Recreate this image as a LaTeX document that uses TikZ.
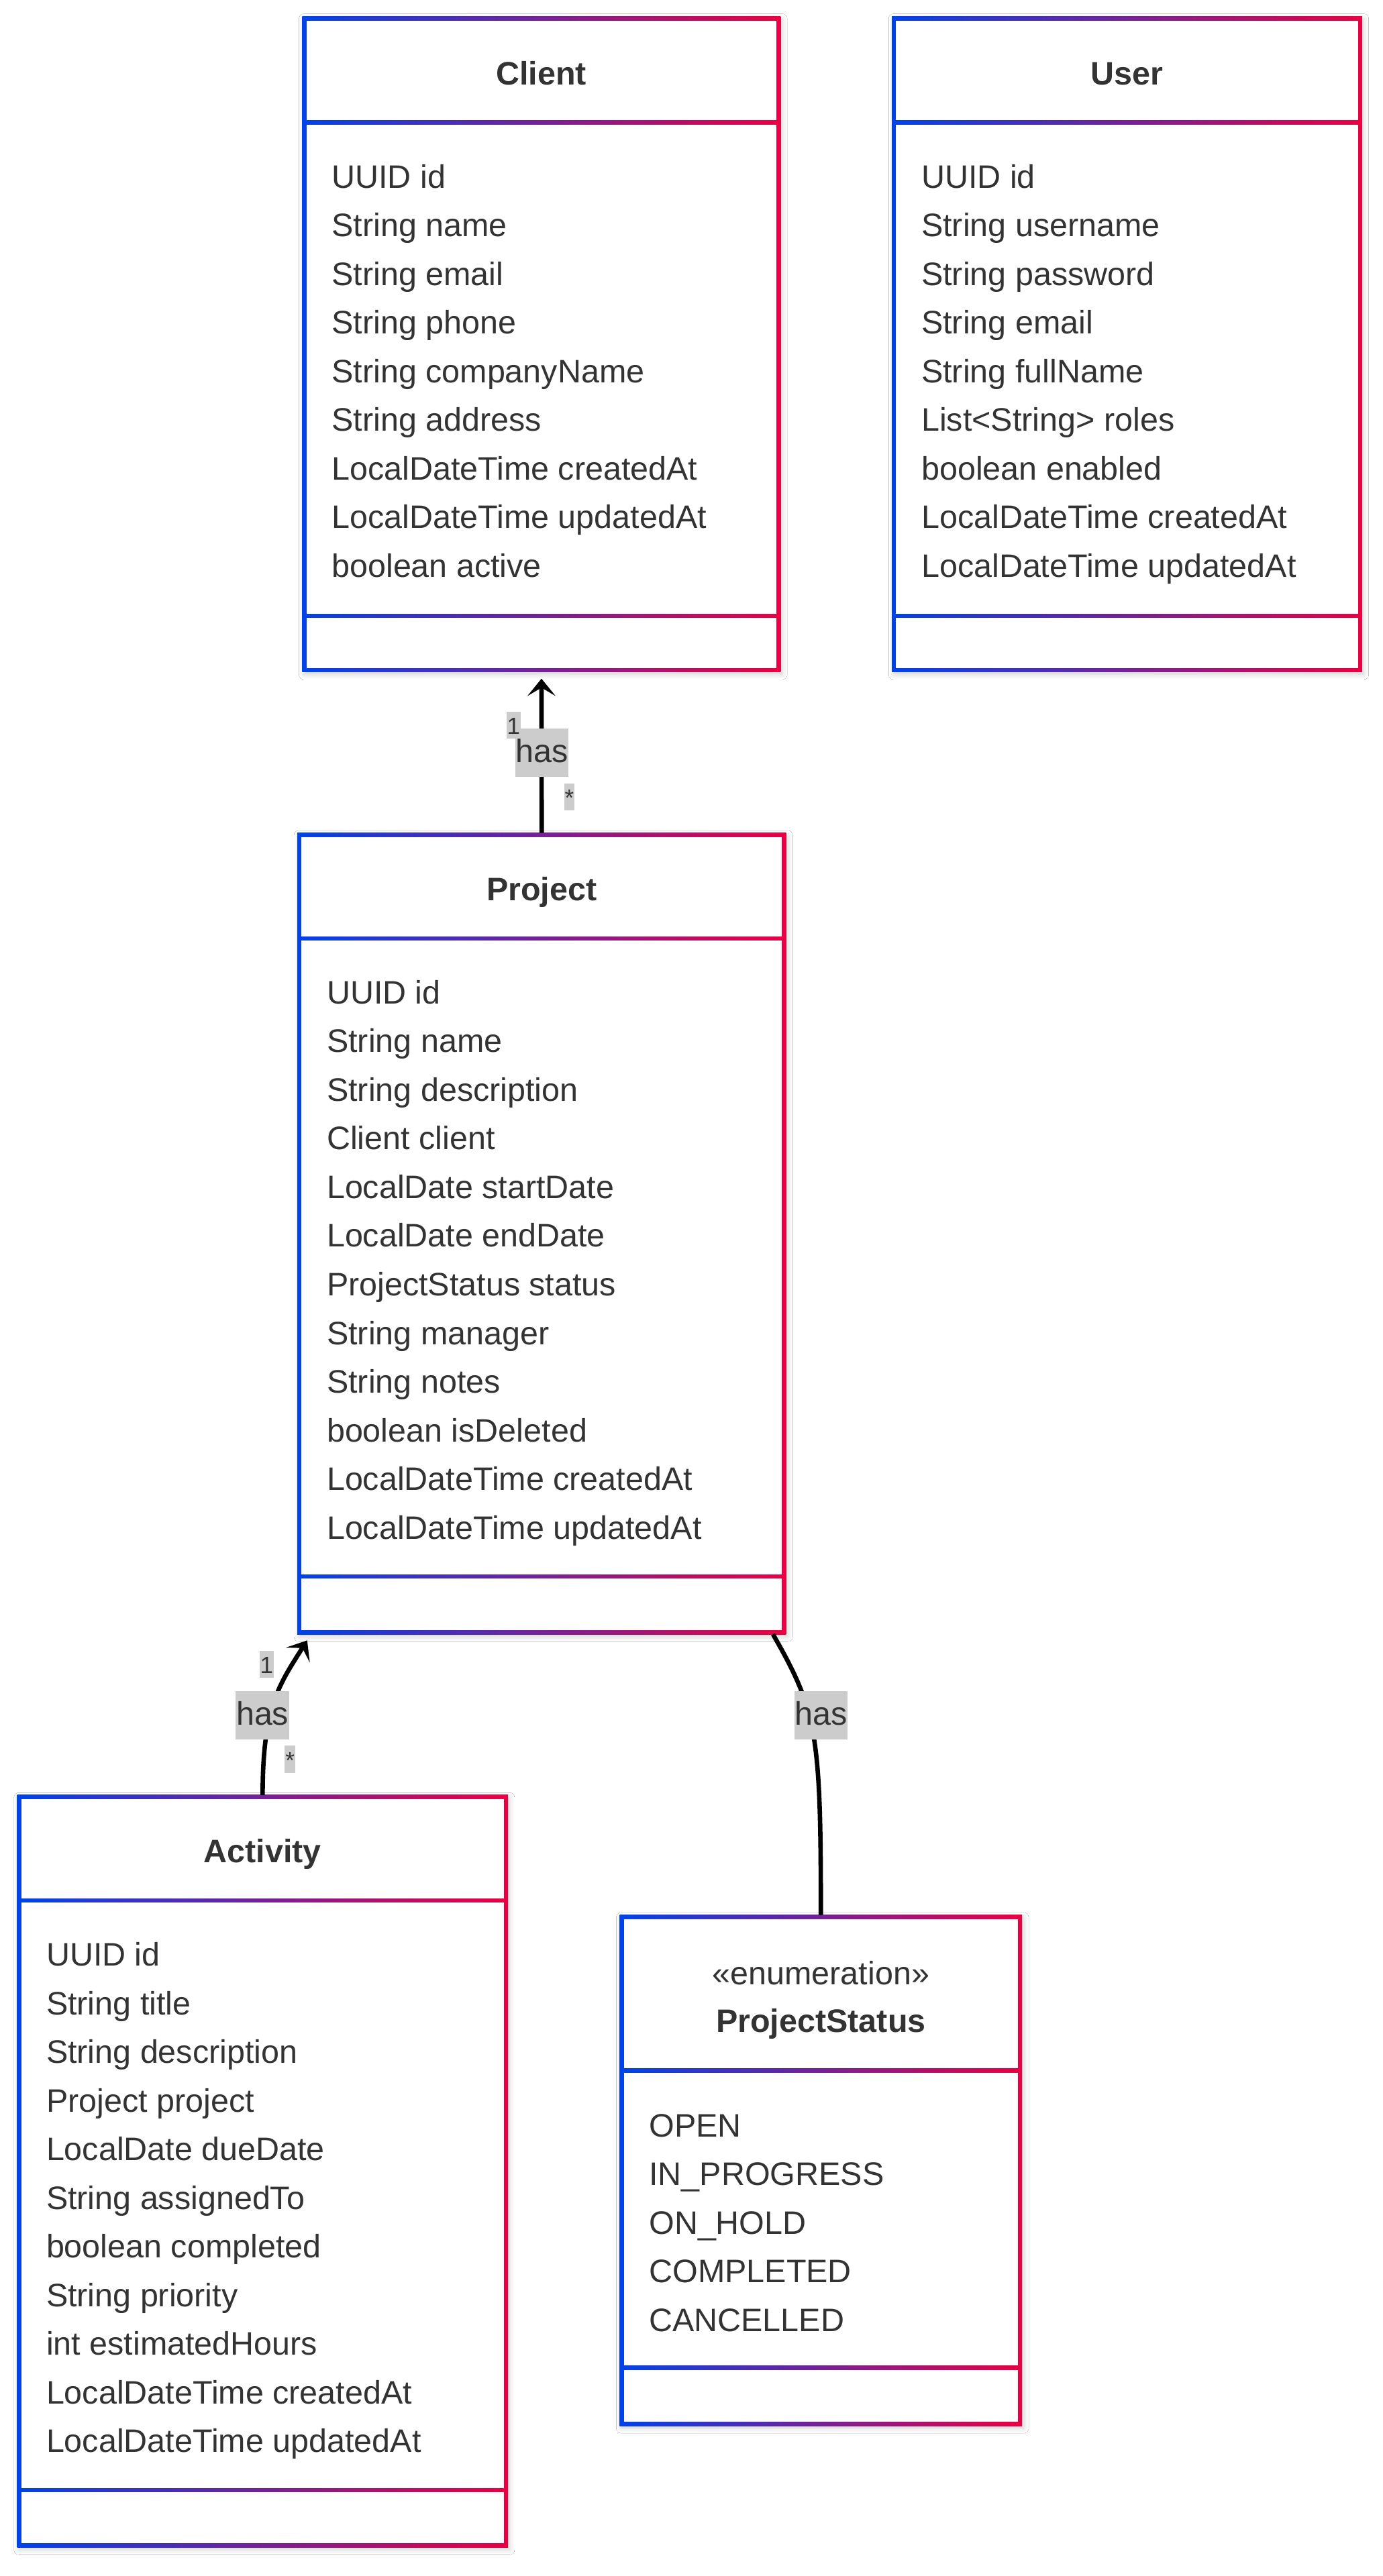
\documentclass[tikz,border=0pt]{standalone}
\usepackage{fontspec}
\setmainfont{Liberation Sans}
\usetikzlibrary{arrows.meta,shadows.blur}

\definecolor{gblue}{RGB}{0,66,235}
\definecolor{gred}{RGB}{235,0,66}
\definecolor{ink}{HTML}{333333}
\definecolor{lgray}{HTML}{CCCCCC}

\newcommand\framew{2.6}
\newcommand\frameh{1.3}
\newcommand\rowgap{29.63}

% class box: name, left, top, right, bottom, first divider, second divider
% (all given as centre lines of the gradient border)
\newcommand\umlframe[7]{%
  \node[classframe, minimum width={(#4-#2+\framew)*1pt}, minimum height={(#5-#3+\framew)*1pt}]
    (#1) at ({(#2+#4)/2},{(#3+#5)/2}) {};
  \fill[white] ({#2+\frameh},{#3+\frameh}) rectangle ({#4-\frameh},{#6-\frameh});
  \fill[white] ({#2+\frameh},{#6+\frameh}) rectangle ({#4-\frameh},{#7-\frameh});
  \fill[white] ({#2+\frameh},{#7+\frameh}) rectangle ({#4-\frameh},{#5-\frameh});
}

\begin{document}
\begin{tikzpicture}[x=1pt, y=-1pt,
  classframe/.style={rectangle, inner sep=0pt, outer sep=0pt, draw=none,
    left color=gblue, right color=gred,
    blur shadow={shadow xshift=1pt, shadow yshift=-1.5pt, shadow blur radius=3pt, shadow opacity=18}},
  attrtext/.style={anchor=base west, inner sep=0pt, text=ink, font=\fontsize{19.8}{23}\selectfont},
  classtitle/.style={anchor=base, inner sep=0pt, text=ink, font=\fontsize{19.8}{23}\selectfont\bfseries},
  stereotext/.style={anchor=base, inner sep=0pt, text=ink, font=\fontsize{19.8}{23}\selectfont},
  assocline/.style={line width=2.7pt, draw=black},
  assochead/.style={-{Stealth[length=10.5pt, width=17pt, inset=5pt]}},
  rellabel/.style={fill=lgray, text=ink, inner xsep=0.3pt, inner ysep=0pt,
    text height=20.4pt, text depth=8.9pt, font=\fontsize{19.8}{23}\selectfont},
  multlabel/.style={fill=lgray, text=ink, inner xsep=0.4pt, inner ysep=0pt,
    text height=13.8pt, text depth=2.7pt, font=\fontsize{14.3}{16}\selectfont},
]
\useasboundingbox[fill=white] (0,0) rectangle (842,1568.8);

% ---------- class boxes ----------
\umlframe{client}{185.3}{11.2}{474}{408}{74.5}{375}
\umlframe{user}{544.3}{11.2}{828}{408}{74.5}{375}
\umlframe{project}{182.3}{508.5}{477.3}{994}{571.5}{960}
\umlframe{activity}{11.8}{1094.5}{308}{1550}{1157.5}{1516.5}
\umlframe{pstatus}{378.5}{1167.5}{621}{1476}{1261}{1442}

% ---------- Client ----------
\node[classtitle] (client-t) at (329.6, 51.5) {Client};
\foreach \t [count=\i] in {UUID id, String name, String email, String phone,
    String companyName, String address, LocalDateTime createdAt,
    LocalDateTime updatedAt, boolean active}
  \node[attrtext] (client-a\i) at (201.8, {114.5+(\i-1)*\rowgap}) {\t};

% ---------- User ----------
\node[classtitle] (user-t) at (686.1, 51.5) {User};
\foreach \t [count=\i] in {UUID id, String username, String password, String email,
    String fullName, List<String> roles, boolean enabled,
    LocalDateTime createdAt, LocalDateTime updatedAt}
  \node[attrtext] (user-a\i) at (560.8, {114.5+(\i-1)*\rowgap}) {\t};

% ---------- Project ----------
\node[classtitle] (project-t) at (329.8, 548.5) {Project};
\foreach \t [count=\i] in {UUID id, String name, String description, Client client,
    LocalDate startDate, LocalDate endDate, ProjectStatus status, String manager,
    String notes, boolean isDeleted, LocalDateTime createdAt, LocalDateTime updatedAt}
  \node[attrtext] (project-a\i) at (198.8, {611.3+(\i-1)*\rowgap}) {\t};

% ---------- Activity ----------
\node[classtitle] (activity-t) at (159.9, 1134.5) {Activity};
\foreach \t [count=\i] in {UUID id, String title, String description, Project project,
    LocalDate dueDate, String assignedTo, boolean completed, String priority,
    int estimatedHours, LocalDateTime createdAt, LocalDateTime updatedAt}
  \node[attrtext] (activity-a\i) at (28, {1197.3+(\i-1)*\rowgap}) {\t};

% ---------- ProjectStatus ----------
\node[stereotext] (pstatus-s) at (499.8, 1208.5) {«enumeration»};
\node[classtitle] (pstatus-t) at (499.8, 1237.8) {ProjectStatus};
\foreach \t [count=\i] in {OPEN, IN\_PROGRESS, ON\_HOLD, COMPLETED, CANCELLED}
  \node[attrtext] (pstatus-a\i) at (395, {1301.3+(\i-1)*\rowgap}) {\t};

% ---------- associations ----------
\draw[assocline, assochead, shorten >=4pt] (project.north) -- (client.south);
\draw[assocline, assochead] (activity.north)
  .. controls +(0,-54) and +(-17,27) .. ([xshift=6pt,yshift=-3.7pt]project.south west);
\draw[assocline] ([xshift=-8pt]project.south east)
  .. controls +(27,47) and +(0,-110) .. (pstatus.north);

% ---------- association labels ----------
\node[rellabel] (has1) at (329.9, 458.5) {has};
\node[multlabel] (m1a) at (312.7, 441.7) {1};
\node[multlabel] (m1b) at (346.6, 485.3) {*};
\node[rellabel] (has2) at (159.8, 1044.6) {has};
\node[multlabel] (m2a) at (162.3, 1013.7) {1};
\node[multlabel] (m2b) at (176.6, 1071.4) {*};
\node[rellabel] (has3) at (499.8, 1044.6) {has};
\end{tikzpicture}
\end{document}
